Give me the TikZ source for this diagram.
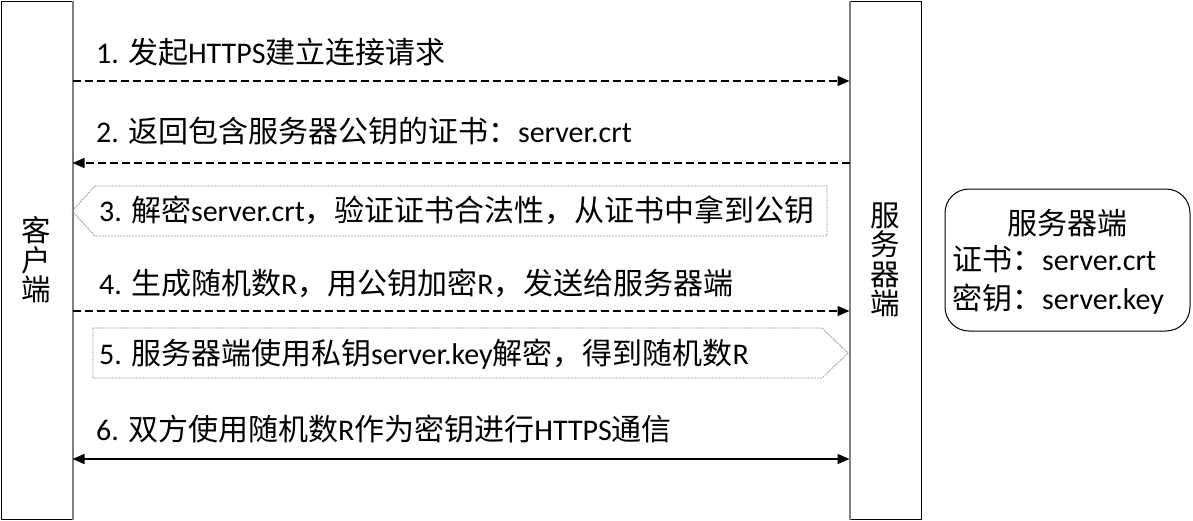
\documentclass[tikz,border=0pt]{standalone}
\usepackage{fontspec}
\setmainfont{Carlito}
\newfontfamily\zhfont{Noto Sans CJK SC}
\newcommand\zh[1]{{\zhfont #1}}
\usetikzlibrary{arrows.meta}
\begin{document}
\begin{tikzpicture}[x=1pt,y=-1pt,
  font=\fontsize{30}{34}\selectfont,
  lifeline/.style={draw=black, line width=1pt, fill=white, minimum width=71pt,
    minimum height=518pt, inner sep=0pt, align=center,
    font=\zhfont\fontsize{29.5}{29.5}\selectfont},
  inneredge/.style={draw=black!50, line width=2pt},
  msg/.style={line width=1.3pt, dash pattern=on 8pt off 4pt,
    -{Triangle[length=12pt,width=10pt]}},
  sync/.style={line width=1.3pt,
    {Triangle[length=12pt,width=10pt]}-{Triangle[length=12pt,width=10pt]}},
  lbl/.style={anchor=base west, inner sep=0pt},
  bubble/.style={draw=black!40, line width=0.8pt, dash pattern=on 2pt off 1pt},
  infobox/.style={draw=black, line width=1pt, rounded corners=24pt,
    minimum width=245pt, minimum height=142pt}
]
\useasboundingbox (0,0) rectangle (1193,520);

\node[lifeline] (client) at (36.5,260) {客\\户\\端};
\node[lifeline] (server) at (885.5,260) {服\\务\\器\\端};
\draw[inneredge] (client.north east) -- (client.south east);
\draw[inneredge] (server.north west) -- (server.south west);

% 1
\coordinate (m1) at (0,81);
\draw[msg] (client.east |- m1) -- (server.west |- m1);
\node[lbl] (l1) at (96,63) {1. \zh{发起}HTTPS\zh{建立连接请求}};

% 2
\coordinate (m2) at (0,163);
\draw[msg] (server.west |- m2) -- (client.east |- m2);
\node[lbl] (l2) at (96,142) {2. \zh{返回包含服务器公钥的证书：}server.crt};

% 3
\draw[bubble] (72,211) -- (95,186) -- (827,186) -- (827,236) -- (95,236) -- cycle;
\node[lbl] (l3) at (99,221) {3. \zh{解密}server.crt\zh{，验证证书合法性，从证书中拿到公钥}};

% 4
\coordinate (m4) at (0,311);
\draw[msg] (client.east |- m4) -- (server.west |- m4);
\node[lbl] (l4) at (99,294) {4. \zh{生成随机数}R\zh{，用公钥加密}R\zh{，发送给服务器端}};

% 5
\draw[bubble] (93,328) -- (822,328) -- (848,353) -- (822,378) -- (93,378) -- cycle;
\node[lbl] (l5) at (99,364) {5. \zh{服务器端使用私钥}server.key\zh{解密，得到随机数}R};

% 6
\coordinate (m6) at (0,459);
\draw[sync] (client.east |- m6) -- (server.west |- m6);
\node[lbl] (l6) at (96,440) {6. \zh{双方使用随机数}R\zh{作为密钥进行}HTTPS\zh{通信}};

% info box
\node[infobox] (info) at (1067.5,260) {};
\node[anchor=base, inner sep=0pt] (i1) at (1067.5,234) {\zh{服务器端}};
\node[lbl] (i2) at (952,270) {\zh{证书：}server.crt};
\node[lbl] (i3) at (952,309) {\zh{密钥：}server.key};
\end{tikzpicture}
\end{document}
